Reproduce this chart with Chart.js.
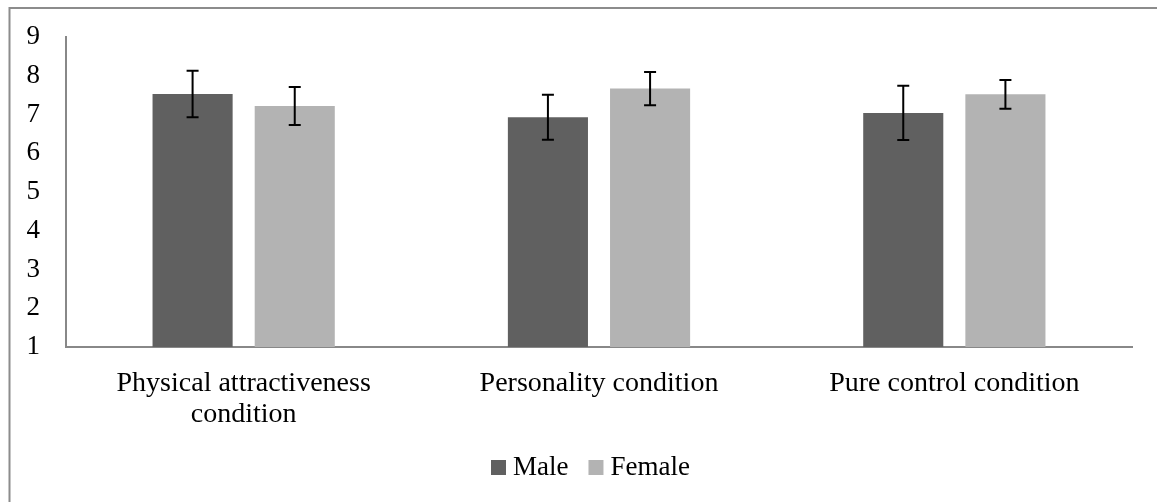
<!DOCTYPE html>
<html>
<head>
<meta charset="utf-8">
<script src="https://cdn.jsdelivr.net/npm/chart.js@4.4.0/dist/chart.umd.min.js"></script>
<style>
  html, body { margin: 0; padding: 0; background: #fff; }
  #wrap { width: 1157px; height: 502px; }
</style>
</head>
<body>
<div id="wrap"><canvas id="genderChart"></canvas></div>
<script>
// values
const conditions = [['Physical attractiveness', 'condition'], 'Personality condition', 'Pure control condition'];
const maleMeans = [7.53, 6.93, 7.04];
const maleErr = [0.60, 0.58, 0.70];
const femaleMeans = [7.22, 7.67, 7.52];
const femaleErr = [0.49, 0.43, 0.37];
const yTicks = [1, 2, 3, 4, 5, 6, 7, 8, 9];

const serif = '"Liberation Serif", "DejaVu Serif", serif';

// frame round the chart (only top and left edges are in view)
const framePlugin = {
  id: 'frame',
  beforeDraw(chart) {
    const c = chart.ctx;
    c.save();
    c.strokeStyle = '#8c8c8c';
    c.lineWidth = 2;
    c.beginPath();
    c.moveTo(9.5, chart.height + 5);
    c.lineTo(9.5, 8);
    c.lineTo(chart.width + 5, 8);
    c.stroke();
    c.restore();
  }
};

const errorBars = {
  id: 'errorBars',
  afterDatasetsDraw(chart) {
    const c = chart.ctx;
    const y = chart.scales.y;
    c.save();
    c.strokeStyle = '#000';
    c.lineWidth = 2;
    chart.data.datasets.forEach((ds, i) => {
      const meta = chart.getDatasetMeta(i);
      meta.data.forEach((bar, j) => {
        const v = ds.data[j], e = ds.errors[j];
        const top = y.getPixelForValue(v + e);
        const bot = y.getPixelForValue(v - e);
        c.beginPath();
        c.moveTo(bar.x, top); c.lineTo(bar.x, bot);
        c.moveTo(bar.x - 6, top); c.lineTo(bar.x + 6, top);
        c.moveTo(bar.x - 6, bot); c.lineTo(bar.x + 6, bot);
        c.stroke();
      });
    });
    c.restore();
  }
};

// legend drawn by hand so the spacing matches the office-style legend
const legendPlugin = {
  id: 'officeLegend',
  afterDraw(chart) {
    const c = chart.ctx;
    c.save();
    c.font = '27px ' + serif;
    c.textBaseline = 'middle';
    c.textAlign = 'left';
    let x = 491;
    const cy = 467;
    chart.data.datasets.forEach(ds => {
      c.fillStyle = ds.backgroundColor;
      c.fillRect(x, cy - 7, 15, 15);
      c.fillStyle = '#000';
      c.fillText(ds.label, x + 22, cy + 1);
      x += 22 + c.measureText(ds.label).width + 20;
    });
    c.restore();
  }
};

new Chart(document.getElementById('genderChart'), {
  type: 'bar',
  data: {
    labels: conditions,
    datasets: [
      { label: 'Male', data: maleMeans, errors: maleErr, backgroundColor: '#606060',
        categoryPercentage: 0.575, barPercentage: 0.784 },
      { label: 'Female', data: femaleMeans, errors: femaleErr, backgroundColor: '#b3b3b3',
        categoryPercentage: 0.575, barPercentage: 0.784 }
    ]
  },
  options: {
    responsive: true,
    maintainAspectRatio: false,
    animation: false,
    layout: { padding: { top: 37, right: 25, bottom: 58, left: 0 } },
    plugins: {
      tooltip: { enabled: false },
      legend: { display: false }
    },
    scales: {
      x: {
        grid: { display: false },
        border: { display: true, color: '#888', width: 2 },
        ticks: {
          color: '#000', maxRotation: 0, autoSkip: false, padding: 13,
          font: { family: serif, size: 28, lineHeight: 1.1 }
        },
        afterFit(scale) { scale.height = 97; }
      },
      y: {
        min: 1, max: 9,
        grid: { display: false, drawTicks: false },
        border: { display: true, color: '#888', width: 2 },
        afterBuildTicks(scale) { scale.ticks = yTicks.map(v => ({ value: v })); },
        ticks: {
          color: '#000', padding: 26,
          font: { family: serif, size: 27 }
        },
        afterFit(scale) {
          scale.width = 66;
          // tick padding would otherwise push the plot area down
          scale.paddingTop = 0;
          scale.paddingBottom = 0;
        }
      }
    }
  },
  plugins: [framePlugin, errorBars, legendPlugin]
});
</script>
</body>
</html>
